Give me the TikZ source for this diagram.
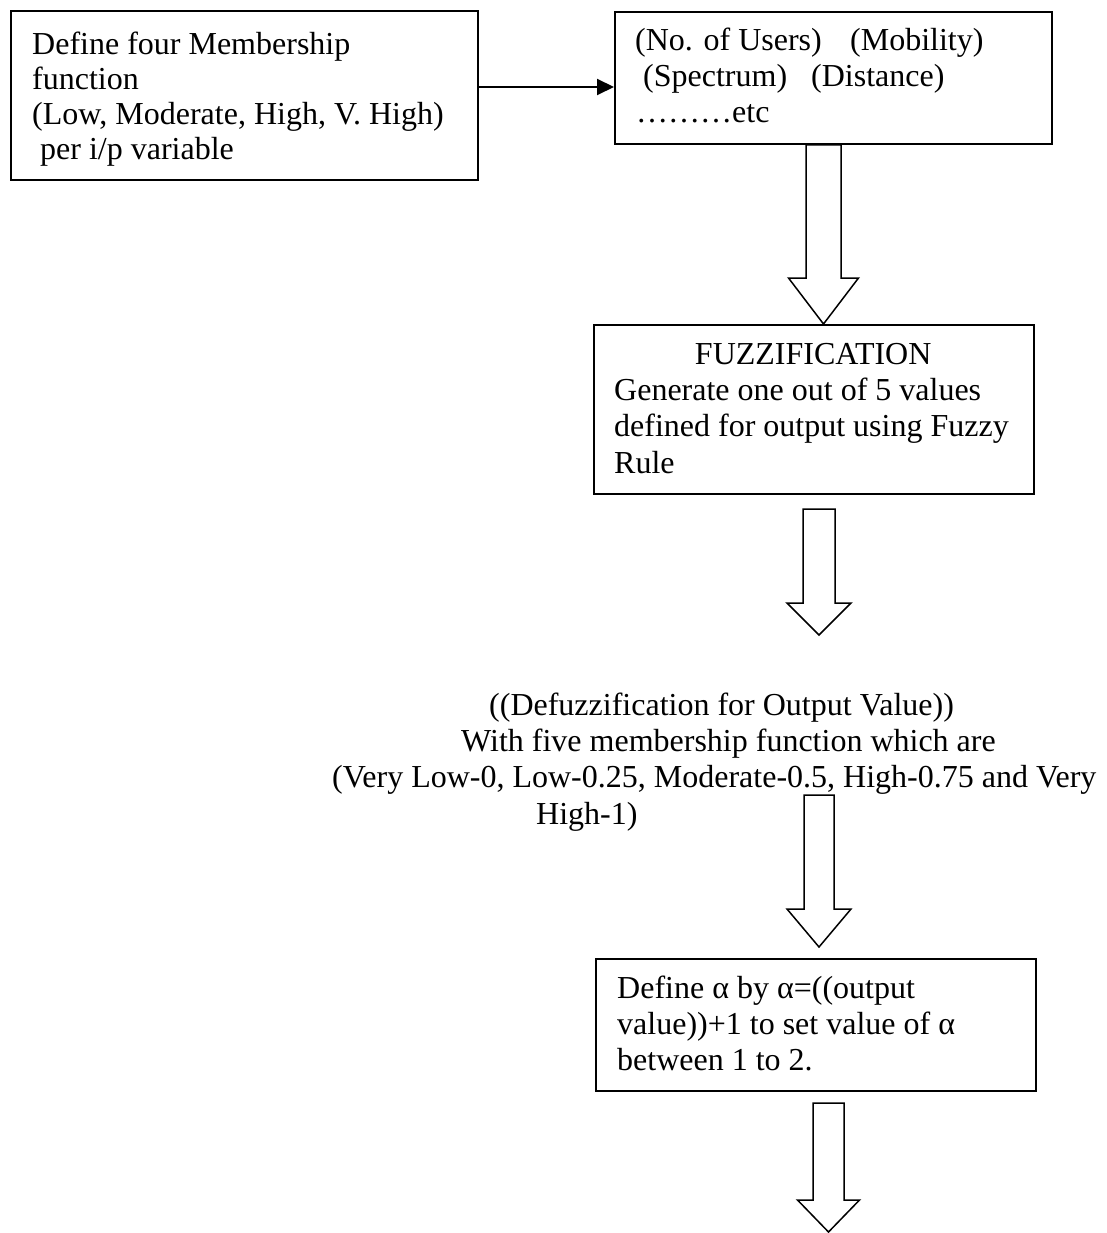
\documentclass[tikz,border=0pt]{standalone}
\usepackage{fontspec}
\setmainfont{Liberation Serif}
\usetikzlibrary{arrows.meta,calc}

% strut that fixes the top of the first text line
\newcommand\firststrut{\rule{0pt}{25pt}}

% hollow block arrow: #1 top centre, #2 tip, #3 shaft half width,
% #4 head half width, #5 head length (all in pt)
\newcommand\hollowarrow[5]{%
  \draw[blockarr] let \p1=(#1), \p2=(#2) in
    (\x1-#3pt,\y1) -- (\x1+#3pt,\y1) -- (\x1+#3pt,\y2+#5pt)
    -- (\x1+#4pt,\y2+#5pt) -- (\x1,\y2) -- (\x1-#4pt,\y2+#5pt)
    -- (\x1-#3pt,\y2+#5pt) -- cycle;}

\begin{document}
\begin{tikzpicture}[x=1pt,y=-1pt,
  box/.style={draw, line width=2pt, anchor=north west, inner sep=0pt},
  txt/.style={anchor=north west, inner sep=0pt, align=left,
    font=\fontsize{32}{36.3}\selectfont},
  thinarr/.style={line width=2pt, -{Triangle[length=17pt,width=16pt]}},
  blockarr/.style={line width=1.5pt, line join=miter}]

\useasboundingbox (0,0) rectangle (1107,1233);
\fill[white] (0,0) rectangle (1107,1233);

% boxes
\node[box, minimum width=467pt, minimum height=169pt] (b1) at (10,10) {};
\node[box, minimum width=437pt, minimum height=132pt] (b2) at (614,11) {};
\node[box, minimum width=440pt, minimum height=169pt] (b3) at (593,324) {};
\node[box, minimum width=440pt, minimum height=132pt] (b4) at (595,958) {};

% texts
\node[txt, font=\fontsize{32}{35}\selectfont] (t1) at (32,29)
  {\firststrut Define four Membership\\function\\(Low, Moderate, High, V. High)\\\hspace*{8pt}per i/p variable};
\node[txt] (t2) at (635,25)
  {\firststrut\makebox[215pt][l]{(No. of Users)}(Mobility)\\\hspace*{8pt}\makebox[168pt][l]{(Spectrum)}(Distance)\\\hspace*{1pt}………etc};
\node[txt] (t3) at (614,339)
  {\firststrut\makebox[398pt]{FUZZIFICATION}\\Generate one out of 5 values\\defined for output using Fuzzy\\Rule};
\node[txt] (t5) at (332,690)
  {\firststrut\hspace*{157pt}((Defuzzification for Output Value))\\\hspace*{129pt}With five membership function which are\\(Very Low-0, Low-0.25, Moderate-0.5, High-0.75 and Very\\\hspace*{204pt}High-1)};
\node[txt] (t4) at (617,973)
  {\firststrut Define α by α=((output\\value))+1 to set value of α\\between 1 to 2.};

% thin connector
\coordinate (a0) at ([yshift=8.5pt]b1.east);
\draw[thinarr] (a0) -- (a0 -| b2.west);

% block arrows
\coordinate (a1top) at ([xshift=-10pt]b2.south);
\coordinate (a1tip) at (a1top |- b3.north);
\coordinate (a2top) at ([xshift=5pt,yshift=-14pt]b3.south);
\coordinate (a2tip) at (818,635);
\coordinate (a3top) at (819,795);
\coordinate (a3tip) at ([xshift=4pt,yshift=11pt]b4.north);
\coordinate (a4top) at ([xshift=12.5pt,yshift=-11pt]b4.south);
\coordinate (a4tip) at (827.5,1232);

\hollowarrow{a1top}{a1tip}{17.5}{35}{46}
\hollowarrow{a2top}{a2tip}{16}{32}{32}
\hollowarrow{a3top}{a3tip}{15}{32}{38}
\hollowarrow{a4top}{a4tip}{15.5}{31}{32}
\end{tikzpicture}
\end{document}
